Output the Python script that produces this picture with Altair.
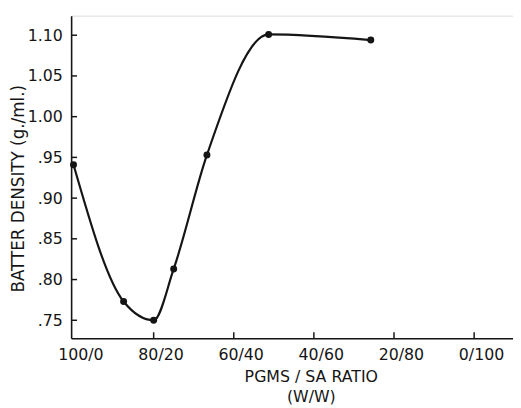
import altair as alt
import pandas as pd

# data (SA share in %, batter density g/ml)
sa_pct = [0, 12.5, 20, 25, 33.3, 48.7, 74.2]
density = [0.941, 0.773, 0.750, 0.813, 0.953, 1.101, 1.094]

x_ticks = [0, 20, 40, 60, 80, 100]
x_tick_labels = ["100/0", "80/20", "60/40", "40/60", "20/80", "0/100"]
y_ticks = [0.75, 0.80, 0.85, 0.90, 0.95, 1.00, 1.05, 1.10]
y_tick_labels = [".75", ".80", ".85", ".90", ".95", "1.00", "1.05", "1.10"]

W, H = 448, 327
ink = "#151515"
font = "DejaVu Sans"

df = pd.DataFrame({"sa": sa_pct, "d": density})
xt = pd.DataFrame({"v": x_ticks[1:]})
yt = pd.DataFrame({"v": y_ticks})


def chain(vals, labs):
    expr = "''"
    for v, l in reversed(list(zip(vals, labs))):
        expr = f"abs(datum.value - {v}) < 0.001 ? '{l}' : ({expr})"
    return expr


xscale = alt.Scale(domain=[-0.6, 109.7], nice=False, zero=False)
yscale = alt.Scale(domain=[0.728, 1.124], nice=False, zero=False)

xaxis = alt.Axis(
    values=x_ticks, labelExpr=chain(x_ticks, x_tick_labels), grid=False,
    tickSize=0, labelPadding=9, labelFontSize=16, labelFont=font,
    labelColor=ink, labelFlush=False, labelOffset=7, labelOverlap=False,
    domainColor=ink, domainWidth=1.6,
    title=["PGMS / SA RATIO", "(W/W)"], titleFont=font, titleFontSize=16,
    titleFontWeight="normal", titleColor=ink, titleLineHeight=20,
    titleX=243, titleY=39, titleBaseline="middle",
)
yaxis = alt.Axis(
    values=y_ticks, labelExpr=chain(y_ticks, y_tick_labels), grid=False,
    tickSize=0, labelPadding=9, labelFontSize=16, labelFont=font,
    labelColor=ink, labelOverlap=False, labelFlush=False,
    domainColor=ink, domainWidth=1.6,
    title="BATTER DENSITY (g./ml.)", titleFont=font, titleFontSize=17,
    titleFontWeight="normal", titleColor=ink, titleX=-53, titleY=175,
    titleBaseline="middle",
)

line = alt.Chart(df).mark_line(color=ink, strokeWidth=2.2, interpolate="monotone").encode(
    x=alt.X("sa:Q", scale=xscale, axis=xaxis),
    y=alt.Y("d:Q", scale=yscale, axis=yaxis),
)
pts = alt.Chart(df).mark_circle(color=ink, size=50, opacity=1).encode(
    x=alt.X("sa:Q", scale=xscale),
    y=alt.Y("d:Q", scale=yscale),
)
xticks = alt.Chart(xt).mark_rule(color=ink, strokeWidth=1.5).encode(
    x=alt.X("v:Q", scale=xscale), y=alt.value(H), y2=alt.value(H - 6)
)
yticks = alt.Chart(yt).mark_rule(color=ink, strokeWidth=1.5).encode(
    y=alt.Y("v:Q", scale=yscale), x=alt.value(0), x2=alt.value(6)
)

chart = alt.layer(line, pts, xticks, yticks).properties(
    width=W, height=H,
    autosize=alt.AutoSizeParams(type="none"),
    padding={"left": 64, "top": 5, "right": 0, "bottom": 68},
).configure_view(stroke=None).configure(background="white")

chart.save("out.html", embed_options={"renderer": "svg", "actions": False})
